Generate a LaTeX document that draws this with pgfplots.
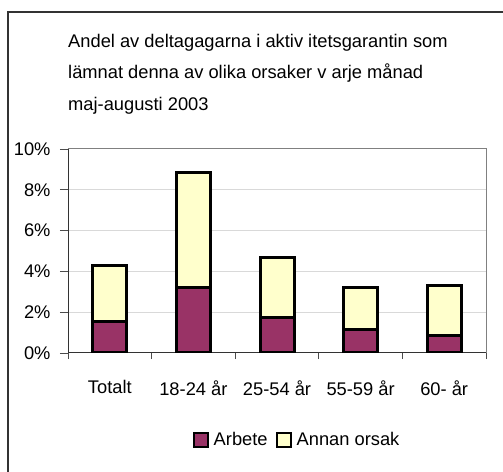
\documentclass[border=0pt]{standalone}
\usepackage{fontspec}
\setmainfont{Liberation Sans}
\usepackage{pgfplots}
\pgfplotsset{compat=1.18}
\definecolor{arbete}{HTML}{993366}
\definecolor{annan}{HTML}{FFFFCC}
\begin{document}
\begin{tikzpicture}
\useasboundingbox (0,0) rectangle (503bp,472bp);
\draw[line width=1.3bp, color=black!80] (8bp,-5bp) -- (8bp,460bp) -- (510bp,460bp);
\node[anchor=north west, align=left, font=\fontsize{18.3bp}{31.5bp}\selectfont, inner sep=0pt] at (68bp,472bp-34bp)
  {Andel av  deltagagarna i aktiv itetsgarantin som\\lämnat denna av  olika orsaker v arje månad\\maj-augusti 2003};
\begin{axis}[
  at={(68bp,119bp)}, anchor=south west,
  scale only axis, width=418bp, height=204bp,
  ybar stacked, bar width=34bp,
  xmin=-0.5, xmax=4.5, ymin=0, ymax=10,
  xtick={0,1,2,3,4},
  xticklabels={Totalt,18-24 år,25-54 år,55-59 år,60- år},
  xtick pos=bottom, ytick pos=left,
  major x tick style={draw=none},
  minor xtick={-0.5,0.5,1.5,2.5,3.5,4.5},
  minor x tick style={draw=black!70, line width=0.8bp},
  minor tick length=6bp,
  tick align=outside,
  ytick={0,2,4,6,8,10},
  major tick length=8bp,
  y tick style={draw=black!70, line width=0.8bp},
  yticklabel={\pgfmathprintnumber{\tick}\%},
  /pgf/number format/assume math mode=true,
  ymajorgrids, grid style={color=black!15, line width=1bp},
  axis line style={color=black!50, line width=1bp},
  ticklabel style={font=\fontsize{18.3bp}{20bp}\selectfont},
  xticklabel style={yshift=-16bp},
  yticklabel style={xshift=-6bp},
  legend style={at={(0.548,-0.426)}, anchor=center, draw=none, fill=none,
    font=\fontsize{18.3bp}{20bp}\selectfont, legend columns=2,
    /tikz/every odd column/.append style={column sep=3bp},
    /tikz/every even column/.append style={column sep=6bp}},
]
\addplot[fill=arbete, draw=black, line width=3bp, legend image code/.code={\draw[fill=arbete, draw=black, line width=2bp] (0bp,-7bp) rectangle (14bp,7bp);}] coordinates {(0,1.55) (1,3.2) (2,1.75) (3,1.17) (4,0.85)};
\addplot[fill=annan, draw=black, line width=3bp, legend image code/.code={\draw[fill=annan, draw=black, line width=2bp] (0bp,-7bp) rectangle (14bp,7bp);}] coordinates {(0,2.75) (1,5.67) (2,2.93) (3,2.02) (4,2.45)};
\legend{Arbete,Annan orsak}
\draw[line width=1.2bp, color=black!80] (rel axis cs:0,1) -- (rel axis cs:0,0) -- (rel axis cs:1,0);
\end{axis}
\end{tikzpicture}
\end{document}
